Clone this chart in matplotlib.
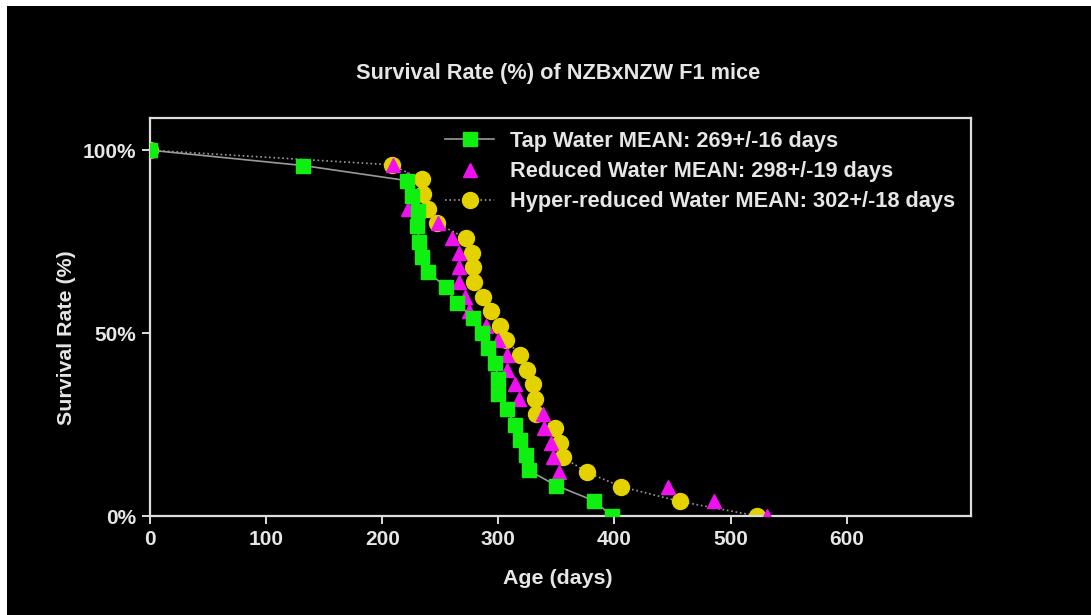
import matplotlib
matplotlib.use("Agg")
import matplotlib.pyplot as plt
from matplotlib.patches import Rectangle
from matplotlib.lines import Line2D

plt.rcParams['font.family'] = ['Liberation Sans', 'DejaVu Sans']

# survival curves (days, % alive)
tap_days = [0, 132, 221, 226, 231, 230, 232, 234, 239.5, 255, 264, 278, 286, 291,
            297, 300, 300, 307, 314, 319, 324, 326, 350, 382, 398]
tap_surv = [100, 95.8, 91.7, 87.5, 83.3, 79.2, 75, 70.8, 66.7, 62.5, 58.3, 54.2, 50,
            45.8, 41.7, 37.5, 33.3, 29.2, 25, 20.8, 16.7, 12.5, 8.3, 4.2, 0]

red_days = [0, 209, 221, 226, 222, 248, 260, 266, 266, 266, 271, 275, 289, 300,
            307, 307, 314, 318, 338, 339, 345, 347, 352, 446, 486, 531]
red_surv = [100, 96, 92, 88, 84, 80, 76, 72, 68, 64, 60, 56, 52, 48, 44, 40, 36,
            32, 28, 24, 20, 16, 12, 8, 4, 0]

hyp_days = [0, 208, 234, 235, 239.5, 247, 272, 277, 278, 279, 287, 294, 301, 306.5,
            319, 325, 330, 331.5, 332, 349, 353, 356, 376, 406, 456, 523]
hyp_surv = [100, 96, 92, 88, 84, 80, 76, 72, 68, 64, 60, 56, 52, 48, 44, 40, 36,
            32, 28, 24, 20, 16, 12, 8, 4, 0]

labels = ["Tap Water MEAN: 269+/-16 days",
          "Reduced Water MEAN: 298+/-19 days",
          "Hyper-reduced Water MEAN: 302+/-18 days"]

W, H = 1091, 615
fig = plt.figure(figsize=(W / 100, H / 100), dpi=100)
fig.patch.set_facecolor('white')
fig.add_artist(Rectangle((7 / W, 0), 1, (H - 6) / H, transform=fig.transFigure,
                         facecolor='black', edgecolor='none', zorder=-10))

ax = fig.add_axes([150 / W, 1 - 516 / H, (971 - 150) / W, (516 - 118) / H])
ax.set_facecolor('black')

txt = '#e6e6e6'
green = '#10f010'
magenta = '#f010f0'
yellow = '#e3d200'

ax.plot(hyp_days, hyp_surv, linestyle=':', color='#9a9a9a', lw=1.2, marker='o',
        ms=11.5, mfc=yellow, mec=yellow, zorder=2)
ax.plot(red_days, red_surv, linestyle='none', marker='^', ms=10, mfc=magenta,
        mec=magenta, zorder=3)
ax.plot(tap_days, tap_surv, linestyle='-', color='#9a9a9a', lw=1.2, marker='s',
        ms=10.5, mfc=green, mec=green, zorder=4)

ax.set_xlim(0, 707)
ax.set_ylim(0, 108.8)
ax.set_xticks([0, 100, 200, 300, 400, 500, 600])
ax.set_yticks([0, 50, 100])
ax.set_yticklabels(['0%', '50%', '100%'])

for s in ax.spines.values():
    s.set_color('#dddddd')
    s.set_linewidth(1.6)
ax.tick_params(colors='#dddddd', labelcolor=txt, direction='out', length=6,
               width=1.4, labelsize=15, pad=4)
for lab in ax.get_xticklabels() + ax.get_yticklabels():
    lab.set_fontweight('bold')

fig.text(558 / W, 1 - 73 / H, "Survival Rate (%) of NZBxNZW F1 mice", ha='center',
         va='center', color=txt, fontsize=15.7, fontweight='bold')
fig.text(558 / W, 1 - 578 / H, "Age (days)", ha='center', va='center', color=txt,
         fontsize=15.4, fontweight='bold')
fig.text(66 / W, 1 - 338 / H, "Survival Rate (%)", ha='center', va='center',
         rotation=90, color=txt, fontsize=15.4, fontweight='bold')

handles = [
    Line2D([], [], linestyle='-', color='#9a9a9a', lw=1.2, marker='s', ms=10.5,
           mfc=green, mec=green),
    Line2D([], [], linestyle='none', marker='^', ms=10, mfc=magenta, mec=magenta),
    Line2D([], [], linestyle=':', color='#9a9a9a', lw=1.2, marker='o', ms=11.5,
           mfc=yellow, mec=yellow),
]
leg = fig.legend(handles, labels, loc='upper left',
                 bbox_to_anchor=(445 / W, 1 - 131 / H), frameon=False,
                 borderpad=0, borderaxespad=0, handlelength=2.25,
                 handletextpad=0.75, labelspacing=0.42,
                 prop={'size': 15.7, 'weight': 'bold'})
for t in leg.get_texts():
    t.set_color(txt)

fig.savefig('out.png', dpi=100, facecolor=fig.get_facecolor())
